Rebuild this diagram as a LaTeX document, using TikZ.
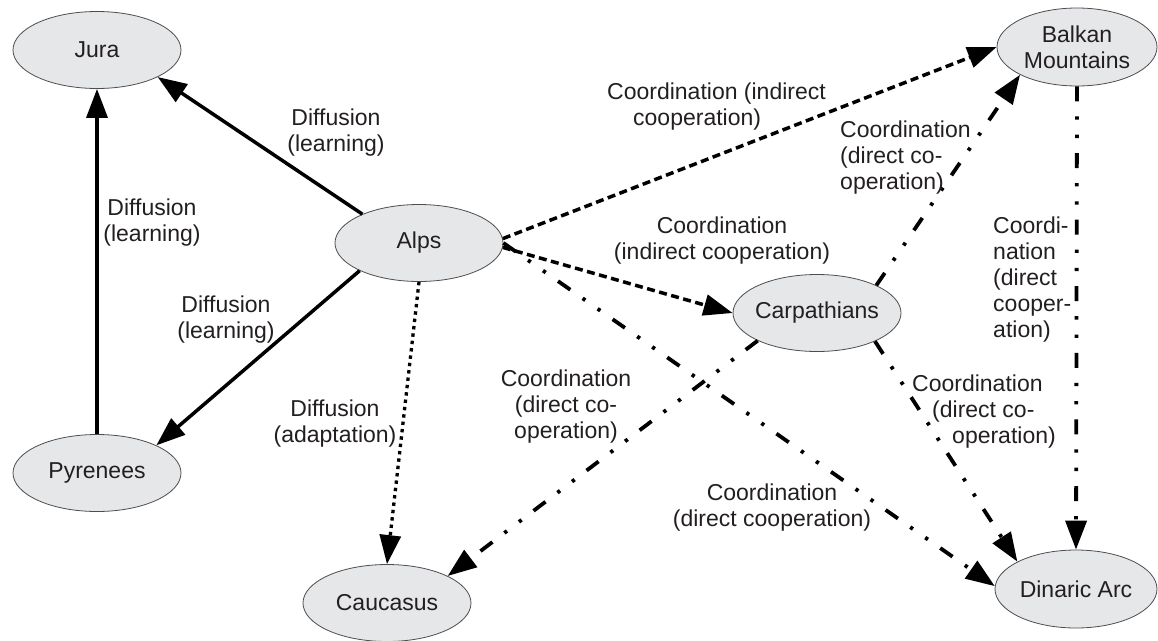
\documentclass[tikz,border=0pt]{standalone}
\usepackage{fontspec}
\setmainfont{Liberation Sans}
\usetikzlibrary{shapes.geometric,arrows.meta}
\definecolor{nodefill}{HTML}{E6E7E8}
\definecolor{nodeline}{HTML}{4D4D4F}
\definecolor{txt}{HTML}{231F20}
\begin{document}
\begin{tikzpicture}[x=1pt,y=-1pt,
  every node/.style={font=\fontsize{23}{26}\selectfont, text=txt},
  region/.style={ellipse, draw=nodeline, line width=0.8pt, fill=nodefill,
    minimum width=168pt, minimum height=77pt, inner sep=0pt, align=center},
  lbl/.style={align=center, inner sep=0pt},
  arr/.style={-{Triangle[length=29pt,width=21pt]}, line width=3.5pt, draw=black},
  solidline/.style={arr},
  dashline/.style={arr, dash pattern=on 8pt off 4.5pt},
  dotline/.style={arr, line width=3.3pt, dash pattern=on 3.4pt off 4pt},
  dddline/.style={arr, line width=3.8pt, dash pattern=on 15pt off 15pt on 3.3pt off 15pt on 3.3pt off 15pt},
]
\useasboundingbox (0,0) rectangle (1158,640);

% regions
\node[region] (jura) at (97,50) {Jura};
\node[region] (alps) at (419,243) {Alps};
\node[region, minimum width=160pt, minimum height=78pt] (balkan) at (1077,47) {Balkan\\Mountains};
\node[region, inner xsep=-6pt] (carp) at (817,313) {Carpathians};
\node[region] (pyr) at (97,473) {Pyrenees};
\node[region] (cauc) at (387,603) {Caucasus};
\node[region, minimum width=162pt, minimum height=78pt] (dinaric) at (1076,589) {Dinaric Arc};

% connectors
\draw[solidline] (alps.153) -- (jura.336);
\draw[solidline] (pyr.north) -- (jura.south);
\draw[solidline] (alps.205) -- (pyr.25);
\draw[dotline] (alps.south) -- (cauc.north);
\draw[dashline] (alps.3) -- (balkan.west);
\draw[dashline] (alps.357) -- (carp.west);
\draw[dddline] (alps.east) -- (dinaric.178);
\draw[dddline] (carp.205) -- (cauc.24);
\draw[dddline] (carp.25) -- (balkan.206);
\draw[dddline] (carp.334) -- (dinaric.155);
\draw[dddline] (balkan.south) -- (dinaric.north);

% labels
\node[lbl] (l1) at (336,133) {Diffusion\\(learning)};
\node[lbl] (l2) at (152,223) {Diffusion\\(learning)};
\node[lbl] (l3) at (226,320) {Diffusion\\(learning)};
\node[lbl] (l4) at (335,424) {Diffusion\\(adaptation)};
\node[lbl, align=left, anchor=west] (l5) at (607,107) {Coordination (indirect\\\hspace*{26pt}cooperation)};
\node[lbl] (l6) at (722,241) {Coordination\\(indirect cooperation)};
\node[lbl] (l7) at (772,508) {Coordination\\(direct cooperation)};
\node[lbl] (l8) at (566,407) {Coordination\\(direct co-\\operation)};
\node[lbl, align=left, anchor=west] (l9) at (840,158) {Coordination\\(direct co-\\operation)};
\node[lbl, align=left, anchor=west] (l10) at (912,412) {Coordination\\\hspace*{20pt}(direct co-\\\hspace*{40pt}operation)};
\node[lbl, align=left, anchor=west] (l11) at (993,280) {Coordi-\\nation\\(direct\\cooper-\\ation)};
\end{tikzpicture}
\end{document}
